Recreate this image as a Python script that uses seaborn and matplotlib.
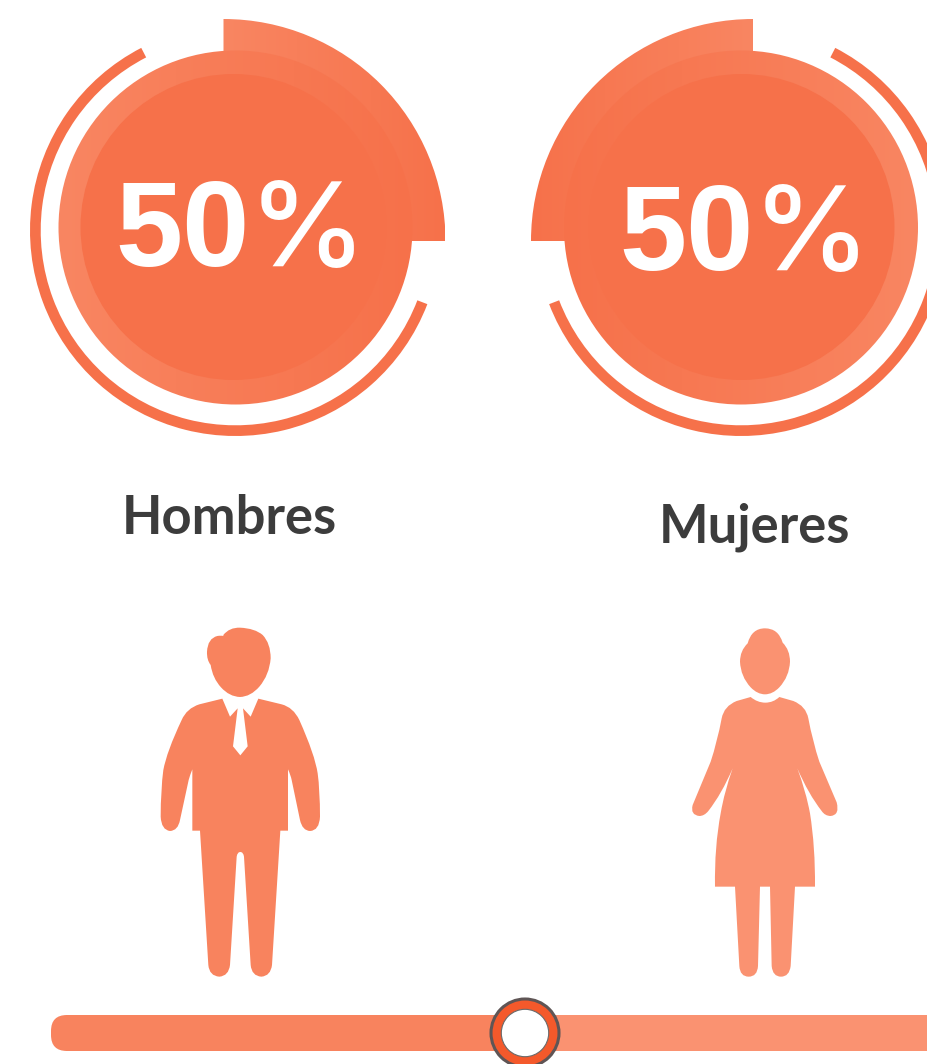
import numpy as np
import seaborn as sns
import matplotlib
matplotlib.use("Agg")
import matplotlib.pyplot as plt
from matplotlib.colors import LinearSegmentedColormap
from matplotlib.patches import Circle, FancyBboxPatch, PathPatch, Wedge
from matplotlib.path import Path

# DATOS
grupos = ["Hombres", "Mujeres"]
porcentajes = [50, 50]

# COLORES
NARANJA = "#F6714A"
CLARO = "#F98662"
TEXTO = "#3C3C3C"
COLOR_HOMBRE = "#F8835E"
COLOR_MUJER = "#FA9271"

# SILUETAS (coordenadas del recorte, escala 3x)
HOMBRE_CABEZA = """M 250 75 Q 268 52 300 53 Q 345 55 368 75 Q 392 100 392 145 Q 388 195 358 230
Q 332 260 300 261 Q 268 260 243 232 Q 218 205 212 165 Q 200 150 201 125 Q 203 85 232 78 Q 243 76 250 78 Z"""
HOMBRE_CUERPO = """M 247 266 L 270 320 L 293 295 L 279 409 L 301 436 L 323 409 L 309 295 L 332 320 L 355 266
L 425 283 Q 460 292 478 330 Q 525 435 533 490 Q 540 540 540 620 Q 538 662 510 663 Q 487 662 480 630
L 455 510 Q 452 495 444 478 L 444 662 L 421 662 L 396 1065 Q 392 1098 364 1100 Q 335 1098 332 1065
L 312 740 Q 310 726 301 726 Q 292 726 290 740 L 270 1065 Q 266 1098 238 1100 Q 208 1098 205 1065
L 180 662 L 157 662 L 157 478 Q 150 495 146 510 L 120 630 Q 114 662 90 663 Q 64 660 62 620
Q 62 540 70 480 Q 80 425 125 330 Q 140 295 178 283 Z"""
MUJER_CABEZA = """M 203 100 Q 215 55 255 55 Q 295 55 308 98 Q 330 120 330 155 Q 328 200 298 232
Q 278 253 255 253 Q 232 253 212 232 Q 182 200 180 155 Q 180 122 203 100 Z"""
MUJER_CUERPO = """M 212 261 Q 232 278 256 278 Q 280 278 298 261 L 340 273 Q 378 288 385 325 Q 398 395 418 455
L 470 577 Q 480 615 452 618 Q 435 618 425 603 Q 385 552 352 475 Q 378 545 390 610 Q 406 710 405 830
L 345 830 L 332 1068 Q 328 1100 303 1100 Q 278 1100 275 1068 L 270 830 L 240 830 L 234 1068
Q 232 1100 206 1100 Q 180 1100 178 1068 L 165 830 L 105 830 Q 103 710 122 610 Q 133 545 158 475
Q 125 552 85 603 Q 73 618 58 618 Q 30 615 38 585 L 92 455 Q 112 395 125 325 Q 132 288 170 273 Z"""

sns.set_theme(style="white")
plt.rcParams["font.family"] = ["Lato", "DejaVu Sans"]

fig = plt.figure(figsize=(9.28, 10.64), dpi=100, facecolor="white")

# BARRA INFERIOR: porcentajes acumulados
ax_barra = fig.add_axes([66 / 928, 1 - 1051 / 1064, 918 / 928, 36 / 1064], zorder=0)
sns.barplot(x=[sum(porcentajes)], y=[""], orient="y", color=COLOR_MUJER, saturation=1, width=1, linewidth=0, ax=ax_barra)
sns.barplot(x=[porcentajes[0]], y=[""], orient="y", color=COLOR_HOMBRE, saturation=1, width=1, linewidth=0, ax=ax_barra)
ax_barra.set_xlim(0, 100)
ax_barra.set_ylim(0.5, -0.5)
ax_barra.axis("off")
for barra in ax_barra.patches:
    barra.set_snap(False)

# LIENZO EN PIXELES
ax = fig.add_axes([0, 0, 1, 1], zorder=1)
ax.patch.set_visible(False)


def degradado(patch, x0, x1, y0, y1, izq, der):
    cmap = LinearSegmentedColormap.from_list("g", [izq, der])
    im = ax.imshow(np.linspace(0, 1, 256)[None, :], cmap=cmap, extent=(x0, x1, y1, y0),
                   aspect="auto", interpolation="bilinear", zorder=patch.get_zorder())
    patch.set_visible(False)
    ax.add_patch(patch)
    im.set_clip_path(patch)


def silueta(texto, ox, oy, color):
    verts, codes = [], []
    t = texto.split()
    i = 0
    while i < len(t):
        c = t[i]
        if c == "Z":
            verts.append(verts[-1])
            codes.append(Path.CLOSEPOLY)
            i += 1
        elif c == "Q":
            n = [float(v) for v in t[i + 1:i + 5]]
            verts += [(ox + n[0] / 3, oy + n[1] / 3), (ox + n[2] / 3, oy + n[3] / 3)]
            codes += [Path.CURVE3, Path.CURVE3]
            i += 5
        else:
            verts.append((ox + float(t[i + 1]) / 3, oy + float(t[i + 2]) / 3))
            codes.append(Path.MOVETO if c == "M" else Path.LINETO)
            i += 3
    ax.add_patch(PathPatch(Path(verts, codes), facecolor=color, edgecolor="none", zorder=3))


def anillo(cx, valor, espejo, base_y, cx_interior, x_num, x_pct):
    barrido = valor * 1.8
    if espejo:
        # panel derecho, el claro queda a la derecha
        sector = Wedge((cx + 12, 241), 222, -90 - barrido, -90, zorder=2)
        degradado(sector, cx + 12 - 222, cx + 12, 19, 241, NARANJA, CLARO)
        arco = (-422.7, -201)
        colores = (NARANJA, CLARO)
    else:
        sector = Wedge((cx - 12, 241), 222, -90, -90 + barrido, zorder=2)
        degradado(sector, cx - 12, cx - 12 + 222, 19, 241, CLARO, NARANJA)
        arco = (-339, -117.3)
        colores = (CLARO, NARANJA)
    ax.add_patch(Wedge((cx, 230.5), 205.5, arco[0], arco[1], width=10.7, facecolor=NARANJA, edgecolor="none", zorder=2))
    disco = Circle((cx, 227.5), 177, zorder=3)
    degradado(disco, cx - 178, cx + 178, 50, 406, colores[0], colores[1])
    ax.add_patch(Circle((cx_interior, 227), 153, facecolor=NARANJA, edgecolor="none", zorder=4))
    ax.text(x_num, base_y, f"{valor}", color="white", fontsize=87, fontweight="bold",
            family=["Liberation Sans", "DejaVu Sans"], ha="left", va="baseline", zorder=5)
    ax.text(x_pct, base_y, "%", color="white", fontsize=85, fontweight="medium",
            family=["Inter", "DejaVu Sans"], ha="right", va="baseline", zorder=5)


anillo(235.5, porcentajes[0], False, 266, 233.5, 115, 366)
anillo(741, porcentajes[1], True, 270, 741.5, 619, 870)

ax.text(229, 534.5, grupos[0], color=TEXTO, fontsize=37.8, fontweight="bold", ha="center", va="baseline")
ax.text(754, 542.5, grupos[1], color=TEXTO, fontsize=37.8, fontweight="bold", ha="center", va="baseline")

silueta(HOMBRE_CABEZA, 140, 610, COLOR_HOMBRE)
silueta(HOMBRE_CUERPO, 140, 610, COLOR_HOMBRE)
silueta(MUJER_CABEZA, 680, 610, COLOR_MUJER)
silueta(MUJER_CUERPO, 680, 610, COLOR_MUJER)

# BARRA: extremo redondeado y cursor
ax.add_patch(FancyBboxPatch((51, 1015), 30, 36, boxstyle="round,pad=0,rounding_size=16",
                            facecolor=COLOR_HOMBRE, edgecolor="none", zorder=1))

pos = 66 + 918 * porcentajes[0] / 100
ax.add_patch(Circle((pos, 1033), 34, facecolor="#F4592B", edgecolor="#5F5555", linewidth=2.2, zorder=6))
ax.add_patch(Circle((pos, 1033), 23.7, facecolor="white", edgecolor="#6A6A6A", linewidth=0.8, zorder=7))

ax.set_xlim(0, 928)
ax.set_ylim(1064, 0)
ax.axis("off")

fig.savefig("out.png", dpi=100)
